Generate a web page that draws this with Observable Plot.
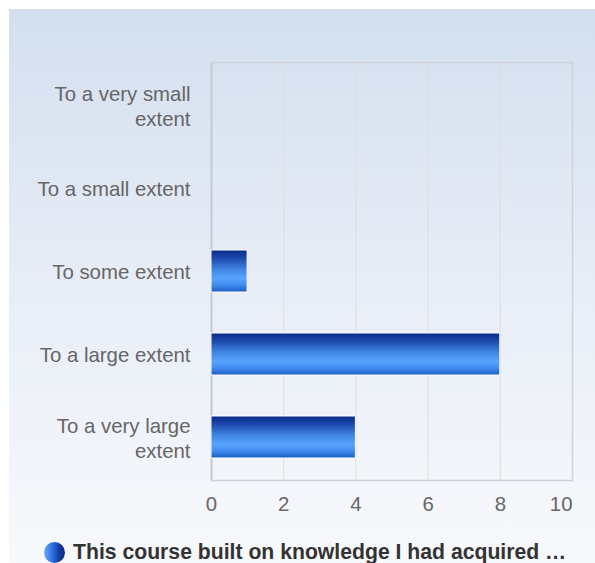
<!DOCTYPE html>
<html>
<head>
<meta charset="utf-8">
<script src="https://cdn.jsdelivr.net/npm/d3@7"></script>
<script src="https://cdn.jsdelivr.net/npm/@observablehq/plot@0.6"></script>
<style>
  html, body { margin: 0; padding: 0; background: #fff; }
  #wrap { position: relative; width: 595px; height: 563px; overflow: hidden; background: #fff; font-family: "Liberation Sans", Arial, sans-serif; }
  #panel { position: absolute; left: 9px; top: 9px; width: 600px; height: 560px; background: linear-gradient(to bottom, #d3dfef 0%, #e6ecf6 45%, #f8f9fc 100%); }
  #chart { position: absolute; left: 0; top: 0; }
  #legend { position: absolute; left: 44px; top: 540px; display: flex; align-items: center; white-space: nowrap; }
  #legend .dot { width: 21px; height: 21px; border-radius: 50%; background: linear-gradient(to right, #6aaaff 0%, #2f6fe0 40%, #10389a 75%, #0a2a80 100%); margin-right: 8px; }
  #legend .txt { font-weight: bold; font-size: 21.2px; color: #333; }
</style>
</head>
<body>
<div id="wrap">
  <div id="panel"></div>
  <div id="chart"></div>
  <div id="legend"><div class="dot"></div><div class="txt" id="legendText"></div></div>
</div>
<script>
const categories = ["To a very small extent", "To a small extent", "To some extent", "To a large extent", "To a very large extent"];
const tickLabels = ["To a very small\nextent", "To a small extent", "To some extent", "To a large extent", "To a very large\nextent"];
const values = [0, 0, 1, 8, 4];
const xTicks = [0, 2, 4, 6, 8, 10];
const seriesName = "This course built on knowledge I had acquired …";

const data = categories.map((c, i) => ({category: c, value: values[i]}));

const svg = Plot.plot({
  width: 595,
  height: 525,
  marginLeft: 211,
  marginRight: 23,
  marginTop: 62,
  marginBottom: 45,
  style: {background: "transparent", fontSize: "20.4px", fontFamily: "'Liberation Sans', Arial, sans-serif", color: "#666"},
  x: {domain: [0, 10], label: null},
  y: {domain: categories, label: null, paddingInner: 0.5, paddingOuter: 0.25},
  marks: [
    Plot.gridX(xTicks.slice(1, -1), {stroke: "#dcdde0", strokeOpacity: 1, strokeWidth: 1}),
    Plot.frame({stroke: "#cfd3d9", strokeWidth: 1.5}),
    Plot.ruleX([0], {stroke: "#c3ccdb", strokeWidth: 2}),
    Plot.barX(data, {filter: d => d.value > 0, x: "value", y: "category", fill: "url(#barGrad)", stroke: "#fff", strokeWidth: 1}),
    Plot.axisY({tickSize: 0, tickPadding: 21, tickFormat: d => tickLabels[categories.indexOf(d)], lineHeight: 1.22, fill: "#666"}),
    Plot.axisX({ticks: xTicks.slice(0, -1), tickSize: 0, tickPadding: 16, fill: "#666"}),
    Plot.axisX({ticks: xTicks.slice(-1), tickSize: 0, tickPadding: 16, textAnchor: "end", fill: "#666"})
  ]
});

const defs = d3.select(svg).insert("defs", ":first-child");
const g = defs.append("linearGradient").attr("id", "barGrad").attr("x1", 0).attr("y1", 0).attr("x2", 0).attr("y2", 1);
[[0, "#0a2b8a"], [0.2, "#1c4aad"], [0.45, "#3f84e2"], [0.68, "#58a4ff"], [0.85, "#3d88ec"], [1, "#1a5cc6"]]
  .forEach(([o, c]) => g.append("stop").attr("offset", o).attr("stop-color", c));

document.getElementById("chart").appendChild(svg);
document.getElementById("legendText").textContent = seriesName;
</script>
</body>
</html>
